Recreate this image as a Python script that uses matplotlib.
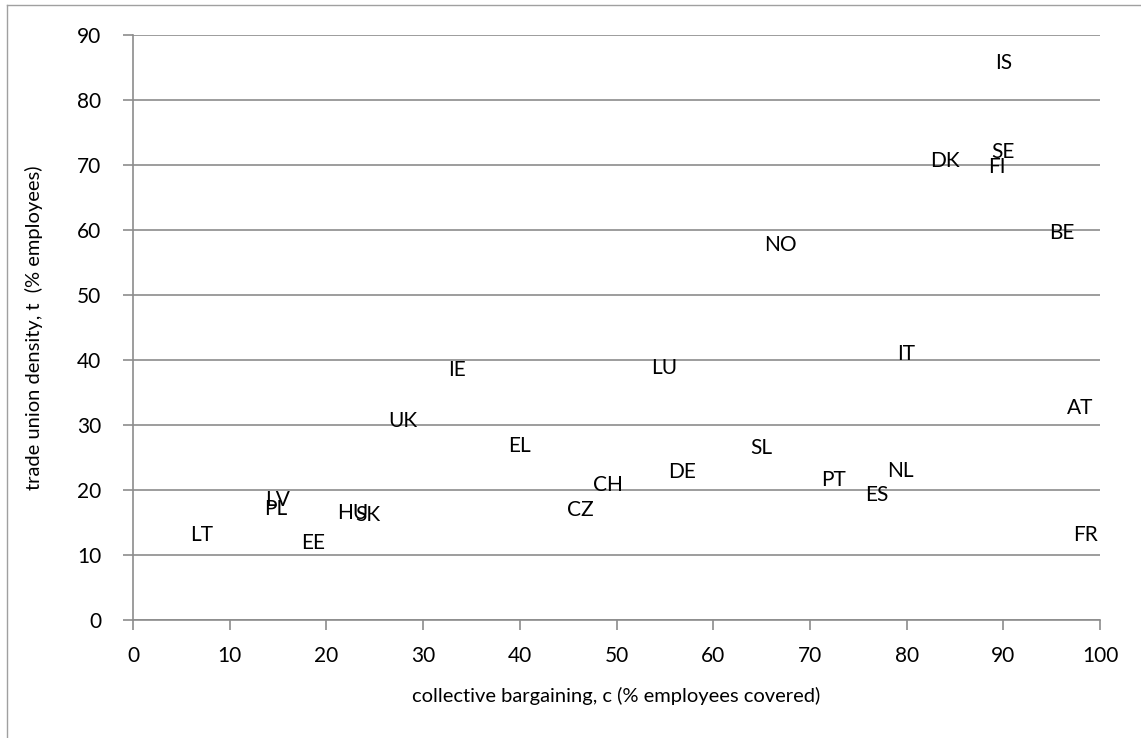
import matplotlib.pyplot as plt
from matplotlib.lines import Line2D

# country codes with bargaining coverage (x) and union density (y)
countries = ["IS", "SE", "FI", "DK", "BE", "NO", "IT", "IE", "LU", "AT",
             "UK", "EL", "SL", "DE", "NL", "CH", "PT", "ES", "LV", "PL",
             "CZ", "HU", "SK", "LT", "EE", "FR"]
coverage = [90.0, 90.0, 89.3, 84.0, 96.0, 67.0, 79.9, 33.5, 54.9, 97.9,
            27.9, 40.0, 65.0, 56.8, 79.4, 49.1, 72.4, 76.9, 14.9, 14.8,
            46.3, 22.7, 24.3, 7.1, 18.6, 98.5]
density = [85.7, 72.0, 69.7, 70.6, 59.5, 57.7, 40.9, 38.5, 38.8, 32.6,
           30.6, 26.8, 26.5, 22.8, 22.9, 20.8, 21.5, 19.2, 18.5, 17.1,
           16.9, 16.4, 16.1, 13.1, 11.8, 13.1]

xticks = list(range(0, 101, 10))
yticks = list(range(0, 91, 10))

plt.rcParams['font.family'] = ['Lato', 'DejaVu Sans']
grid_col = '#8c8c8c'

fig = plt.figure(figsize=(11.41, 7.38), dpi=100)
ax = fig.add_axes([133/1141, 118/738, 967/1141, 585/738])

for name, c, t in zip(countries, coverage, density):
	ax.text(c, t, name, ha='center', va='center', fontsize=15, color='black')

ax.set_xlim(0, 100)
ax.set_ylim(0, 90)
ax.set_xticks(xticks)
ax.set_yticks(yticks)
ax.yaxis.grid(True, color=grid_col, linewidth=1.2)
ax.set_axisbelow(True)
for side in ['top', 'right']:
	ax.spines[side].set_visible(False)
for side in ['left', 'bottom']:
	ax.spines[side].set_color(grid_col)
	ax.spines[side].set_linewidth(1.2)
ax.tick_params(axis='both', colors=grid_col, length=7, width=1.2, labelsize=15, labelcolor='black')
ax.tick_params(axis='x', pad=12)
ax.tick_params(axis='y', pad=16)

ax.set_xlabel('collective bargaining, c (% employees covered)', fontsize=14.5, labelpad=15)
ax.set_ylabel('trade union density, t  (% employees)', fontsize=14.5, labelpad=24)

# outer chart frame (left and top edges visible)
fig.add_artist(Line2D([7/1141, 7/1141], [0, 733/738], transform=fig.transFigure, color='#a0a0a0', lw=1))
fig.add_artist(Line2D([7/1141, 1], [733/738, 733/738], transform=fig.transFigure, color='#a0a0a0', lw=1))

fig.savefig('out.png', dpi=100)
